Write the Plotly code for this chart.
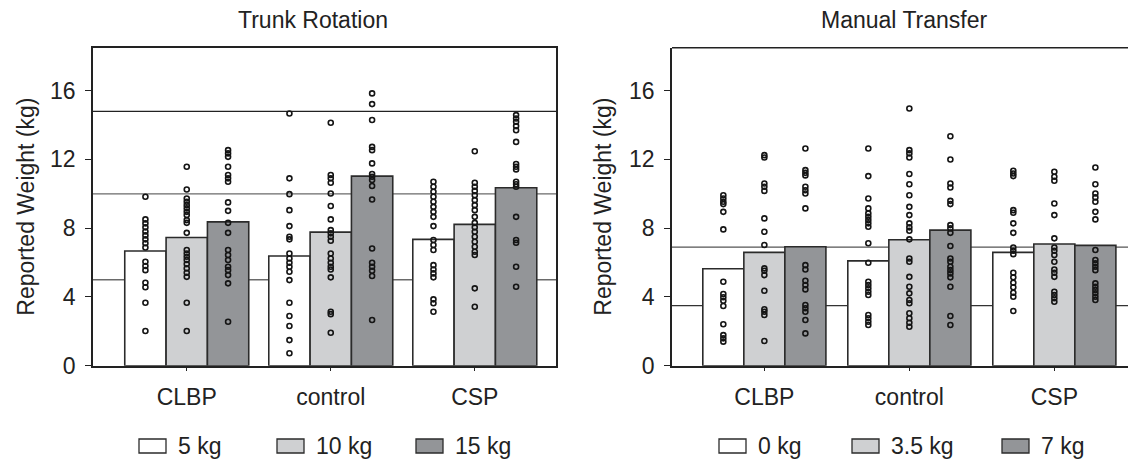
import plotly.graph_objects as go

W, H = 1128, 460

# ---------------- data ----------------
groups = ["CLBP", "control", "CSP"]
trunk_levels = ["5 kg", "10 kg", "15 kg"]
manual_levels = ["0 kg", "3.5 kg", "7 kg"]

# bar heights (mean reported weight), order: CLBP, control, CSP
trunk_5kg_mean = [6.67, 6.38, 7.35]
trunk_10kg_mean = [7.46, 7.77, 8.22]
trunk_15kg_mean = [8.37, 11.03, 10.35]
manual_0kg_mean = [5.64, 6.10, 6.59]
manual_35kg_mean = [6.59, 7.33, 7.08]
manual_7kg_mean = [6.92, 7.89, 7.00]

# individual reported weights (dots)
trunk_clbp_5 = [9.83, 8.51, 8.28, 8.05, 7.81, 7.58, 7.35, 7.12, 6.88, 6.05, 5.8, 5.56, 4.83, 4.56, 3.66, 2.02]
trunk_clbp_10 = [11.57, 10.25, 9.73, 9.54, 9.34, 9.15, 8.95, 8.76, 8.47, 8.31, 7.73, 6.73, 6.53, 6.34, 6.15, 5.91, 5.66, 5.41, 5.17, 3.66, 2.02]
trunk_clbp_15 = [12.54, 12.35, 12.15, 11.57, 11.09, 10.9, 10.7, 9.5, 9.01, 8.31, 7.73, 6.73, 6.44, 6.15, 5.76, 5.56, 5.27, 4.79, 2.56]
trunk_control_5 = [14.67, 10.9, 9.98, 9.05, 8.12, 7.5, 7.35, 6.53, 6.24, 5.99, 5.76, 5.47, 4.98, 3.66, 2.89, 2.31, 1.49, 0.72]
trunk_control_10 = [14.13, 11.09, 10.9, 10.64, 10.02, 9.29, 8.51, 7.89, 7.7, 7.5, 7.27, 6.53, 6.24, 5.99, 5.76, 5.6, 5.14, 3.14, 3.0, 1.92]
trunk_control_15 = [15.84, 15.22, 14.29, 12.73, 12.54, 11.77, 11.15, 10.99, 10.8, 10.45, 9.67, 6.82, 5.99, 5.76, 5.52, 5.22, 2.66]
trunk_csp_5 = [10.7, 10.41, 10.12, 9.83, 9.54, 9.24, 8.95, 8.66, 8.12, 7.31, 7.02, 6.73, 5.85, 5.6, 5.37, 5.14, 3.86, 3.63, 3.14]
trunk_csp_10 = [12.48, 10.64, 10.41, 10.17, 9.92, 9.63, 9.34, 9.05, 8.66, 8.31, 8.05, 7.79, 7.5, 7.21, 6.92, 6.63, 6.44, 4.5, 3.43]
trunk_csp_15 = [14.58, 14.38, 14.19, 13.94, 13.7, 13.02, 11.73, 11.57, 11.42, 10.7, 10.56, 10.41, 8.66, 7.31, 7.15, 5.76, 4.59]

manual_clbp_0 = [9.92, 9.73, 9.54, 9.4, 8.95, 7.93, 4.88, 4.17, 3.98, 3.78, 3.47, 2.41, 1.78, 1.59, 1.4]
manual_clbp_35 = [12.25, 12.11, 10.6, 10.41, 10.17, 8.57, 7.79, 7.02, 5.66, 5.52, 5.27, 4.36, 3.28, 3.14, 2.95, 1.44]
manual_clbp_7 = [12.64, 11.38, 11.22, 11.07, 10.41, 10.21, 10.02, 9.15, 5.85, 5.6, 4.94, 4.69, 4.44, 3.53, 3.34, 3.14, 2.66, 1.88]
manual_control_0 = [12.64, 11.03, 9.73, 9.15, 8.86, 8.66, 8.47, 8.28, 8.08, 7.12, 5.99, 4.88, 4.69, 4.5, 4.3, 4.11, 2.95, 2.76, 2.56, 2.37]
manual_control_35 = [14.96, 12.54, 12.35, 12.11, 11.15, 10.56, 9.92, 9.24, 8.76, 8.28, 8.05, 7.85, 7.35, 6.24, 6.05, 5.17, 4.59, 4.21, 3.82, 3.63, 3.05, 2.76, 2.5, 2.27]
manual_control_7 = [13.35, 12.0, 10.6, 10.37, 9.59, 9.4, 8.18, 7.99, 7.73, 6.96, 6.24, 6.05, 5.76, 5.56, 5.37, 5.14, 4.59, 2.89, 2.37]
manual_csp_0 = [11.34, 11.18, 11.03, 9.05, 8.9, 8.28, 7.73, 6.88, 6.69, 6.49, 5.41, 5.14, 4.83, 4.56, 4.24, 4.01, 3.18]
manual_csp_35 = [11.28, 10.99, 10.76, 9.44, 8.76, 7.41, 6.88, 6.69, 6.44, 6.05, 5.6, 5.41, 5.17, 4.3, 4.11, 3.92, 3.72]
manual_csp_7 = [11.53, 10.56, 10.02, 9.79, 9.54, 8.95, 8.51, 6.73, 6.15, 5.95, 5.76, 5.56, 4.79, 4.59, 4.4, 4.21, 4.01, 3.82]

# horizontal reference lines (actual weights)
trunk_ref_lines = [14.8, 10.0, 5.0]
manual_ref_lines = [6.9, 3.5]

y_ticks = [0, 4, 8, 12, 16]

# ---------------- style ----------------
FONT = "Liberation Sans, Arial, Helvetica, sans-serif"
TXT = "#222222"
FS = 23
fills = ["#ffffff", "#cfd0d2", "#939598"]
EDGE = "#2b2b2b"
BW_L = 0.287
BW_R = 0.283

trunk_means = [trunk_5kg_mean, trunk_10kg_mean, trunk_15kg_mean]
manual_means = [manual_0kg_mean, manual_35kg_mean, manual_7kg_mean]
trunk_dots = [
    [trunk_clbp_5, trunk_control_5, trunk_csp_5],
    [trunk_clbp_10, trunk_control_10, trunk_csp_10],
    [trunk_clbp_15, trunk_control_15, trunk_csp_15],
]
manual_dots = [
    [manual_clbp_0, manual_control_0, manual_csp_0],
    [manual_clbp_35, manual_control_35, manual_csp_35],
    [manual_clbp_7, manual_control_7, manual_csp_7],
]

fig = go.Figure()


def add_panel(means, dots, levels, xa, ya, bw):
    # bars
    for j, (m, name) in enumerate(zip(means, levels)):
        xs = [g + (j - 1) * bw for g in range(len(groups))]
        fig.add_trace(go.Bar(
            x=xs, y=m, width=bw, name=name, xaxis=xa, yaxis=ya,
            marker=dict(color=fills[j], line=dict(color=EDGE, width=1.6)),
            showlegend=False, hoverinfo="y",
        ))
    # dots
    for j in range(len(levels)):
        for g in range(len(groups)):
            vals = dots[j][g]
            fig.add_trace(go.Scatter(
                x=[g + (j - 1) * bw] * len(vals), y=vals, mode="markers",
                xaxis=xa, yaxis=ya, showlegend=False, hoverinfo="y",
                marker=dict(symbol="circle-open", size=5, color="#151515",
                            line=dict(width=1.6, color="#151515")),
            ))


add_panel(trunk_means, trunk_dots, trunk_levels, "x", "y", BW_L)
add_panel(manual_means, manual_dots, manual_levels, "x2", "y2", BW_R)

ydom = [1 - 365.7 / H, 1 - 47.7 / H]
common_x = dict(tickvals=list(range(len(groups))), ticktext=groups, ticks="outside",
                ticklen=4, tickcolor=TXT, showline=True, linecolor=TXT, linewidth=1.5,
                showgrid=False, zeroline=False, tickfont=dict(size=FS, color=TXT),
                automargin=False, ticklabelstandoff=6)
common_y = dict(range=[0, 18.5], tickvals=y_ticks, ticks="outside", ticklen=6,
                tickcolor=TXT, showline=True, linecolor=TXT, linewidth=1.5,
                showgrid=False, zeroline=False, tickfont=dict(size=FS, color=TXT),
                automargin=False, domain=ydom, ticklabelstandoff=5)

fig.update_layout(
    width=W, height=H,
    margin=dict(l=0, r=0, t=0, b=0),
    paper_bgcolor="white", plot_bgcolor="white",
    font=dict(family=FONT, size=FS, color=TXT),
    barmode="overlay",
    xaxis=dict(domain=[93 / W, 556 / W], range=[-0.651, 2.564], mirror=True, anchor="y", **common_x),
    yaxis=dict(anchor="x", mirror=True, **common_y),
    xaxis2=dict(domain=[672 / W, 1.0], range=[-0.637, 2.508], mirror=False, anchor="y2", **common_x),
    yaxis2=dict(anchor="x2", mirror=False, **common_y),
)

shapes = []
ref_colors_l = ["#222222", "#6a6a6a", "#6a6a6a"]
for v, c in zip(trunk_ref_lines, ref_colors_l):
    shapes.append(dict(type="line", xref="x domain", yref="y", x0=0, x1=1, y0=v, y1=v,
                       line=dict(color=c, width=1.3), layer="below"))
ref_colors_r = ["#555555", "#333333"]
for v, c in zip(manual_ref_lines, ref_colors_r):
    shapes.append(dict(type="line", xref="x2 domain", yref="y2", x0=0, x1=1, y0=v, y1=v,
                       line=dict(color=c, width=1.3), layer="below"))
# top border of right panel (right edge is cut off by the page)
shapes.append(dict(type="line", xref="x2 domain", yref="y2 domain", x0=0, x1=1, y0=1, y1=1,
                   line=dict(color=TXT, width=1.5)))

annotations = []
# panel titles
annotations.append(dict(text="Trunk Rotation", x=313 / W, y=1 - 20 / H, xref="paper", yref="paper",
                        xanchor="center", yanchor="middle", showarrow=False, font=dict(size=FS)))
annotations.append(dict(text="Manual Transfer", x=904 / W, y=1 - 20 / H, xref="paper", yref="paper",
                        xanchor="center", yanchor="middle", showarrow=False, font=dict(size=FS)))
# y axis titles
for xc in (26, 603):
    annotations.append(dict(text="Reported Weight (kg)", x=xc / W, y=1 - 206.7 / H, xref="paper",
                            yref="paper", xanchor="center", yanchor="middle", textangle=-90,
                            showarrow=False, font=dict(size=FS)))

# custom legends (rectangular swatches as in the original)
leg_y0, leg_y1 = 1 - 453 / H, 1 - 439 / H
leg_left_sw = [139, 277, 416]
leg_right_sw = [719, 852, 1002]
for names, xs in ((trunk_levels, leg_left_sw), (manual_levels, leg_right_sw)):
    for j, (name, x0) in enumerate(zip(names, xs)):
        shapes.append(dict(type="rect", xref="paper", yref="paper", x0=x0 / W, x1=(x0 + 27) / W,
                           y0=leg_y0, y1=leg_y1, fillcolor=fills[j], line=dict(color=EDGE, width=1.3)))
        annotations.append(dict(text=name, x=(x0 + 37) / W, y=(leg_y0 + leg_y1) / 2, xref="paper",
                                yref="paper", xanchor="left", yanchor="middle", showarrow=False,
                                font=dict(size=FS)))

fig.update_layout(shapes=shapes, annotations=annotations)
fig.write_html(
    "out.html",
    config={"displayModeBar": False},
    post_script="document.body.style.margin='0';document.body.style.overflow='hidden';",
)
